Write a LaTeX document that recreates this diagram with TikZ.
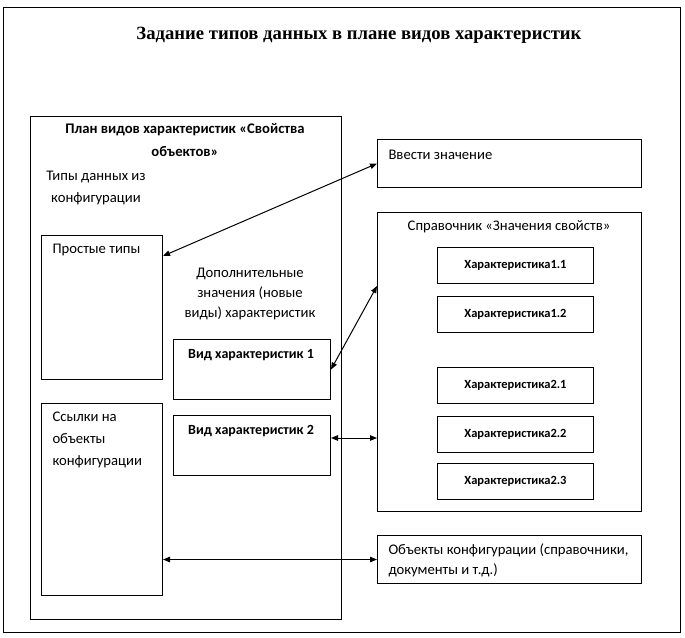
\documentclass[tikz,border=0pt]{standalone}
\usepackage{fontspec}
\setmainfont{Carlito}
\newfontfamily\titlefont{Liberation Serif}
\usetikzlibrary{arrows.meta}

\begin{document}
\begin{tikzpicture}[x=1pt, y=-1pt, line width=1pt,
  box/.style={draw, anchor=north west, inner sep=0pt},
  txt/.style={inner sep=0pt, font=\fontsize{14.67}{22}\selectfont},
  btxt/.style={inner sep=0pt, font=\bfseries\fontsize{14}{22}\selectfont},
  chbox/.style={box, minimum width=156pt, minimum height=36pt, font=\bfseries\fontsize{12.5}{14}\selectfont},
  arrow/.style={{Triangle[length=7pt,width=5.5pt]}-{Triangle[length=7pt,width=5.5pt]}}]
	\useasboundingbox (0,0) rectangle (685,637);
	\node[box, minimum width=677pt, minimum height=625pt] (frame) at (3,7) {};
	\node[inner sep=0pt, font=\titlefont\bfseries\fontsize{18.67}{22}\selectfont] (title) at (359,35) {Задание типов данных в плане видов характеристик};

	\node[box, minimum width=311pt, minimum height=503pt] (plan) at (30,116) {};
	\node[btxt, font=\bfseries\fontsize{14.67}{23}\selectfont, align=center] (plantxt) at (185,140) {План видов характеристик «Свойства\\объектов»};
	\node[txt, align=center] (typestxt) at (96,188) {Типы данных из\\конфигурации};

	\node[box, minimum width=121pt, minimum height=144pt] (prost) at (41,235) {};
	\node[txt, anchor=west] (prosttxt) at (52,250) {Простые типы};
	\node[box, minimum width=121pt, minimum height=192pt] (ssyl) at (41,403) {};
	\node[txt, anchor=west, align=left] (ssyltxt) at (52,440) {Ссылки на\\объекты\\конфигурации};

	\node[txt, font=\fontsize{14.67}{20}\selectfont, align=center] (doptxt) at (250,294) {Дополнительные\\значения (новые\\виды) характеристик};
	\node[box, minimum width=157pt, minimum height=60pt] (vid1) at (173,339) {};
	\node[btxt] (vid1txt) at (251,355) {Вид характеристик 1};
	\node[box, minimum width=157pt, minimum height=60pt] (vid2) at (173,415) {};
	\node[btxt] (vid2txt) at (251,431) {Вид характеристик 2};

	\node[box, minimum width=264pt, minimum height=48pt] (vvod) at (377,139) {};
	\node[txt, anchor=west] (vvodtxt) at (388,155) {Ввести значение};
	\node[box, minimum width=264pt, minimum height=299pt] (sprav) at (377,212) {};
	\node[txt] (spravtxt) at (509,227) {Справочник «Значения свойств»};
	\foreach \lbl/\y [count=\i] in {1.1/247, 1.2/296, 2.1/367, 2.2/416, 2.3/463}
		\node[chbox] (ch\i) at (437,\y) {Характеристика\lbl};
	\node[box, minimum width=264pt, minimum height=48pt] (obj) at (377,535) {};
	\node[txt, font=\fontsize{14.67}{20}\selectfont, anchor=west, align=left] (objtxt) at (388,560) {Объекты конфигурации (справочники,\\документы и т.д.)};

	\coordinate (a3) at ([yshift=-23pt]vid2.north east);
	\draw[arrow] ([yshift=-21pt]prost.north east) -- (vvod.west);
	\draw[arrow] (vid1.east) -- ([yshift=-74pt]sprav.north west);
	\draw[arrow] (a3) -- (a3 -| sprav.west);
	\draw[arrow] (obj.west -| ssyl.east) -- (obj.west);
\end{tikzpicture}
\end{document}
